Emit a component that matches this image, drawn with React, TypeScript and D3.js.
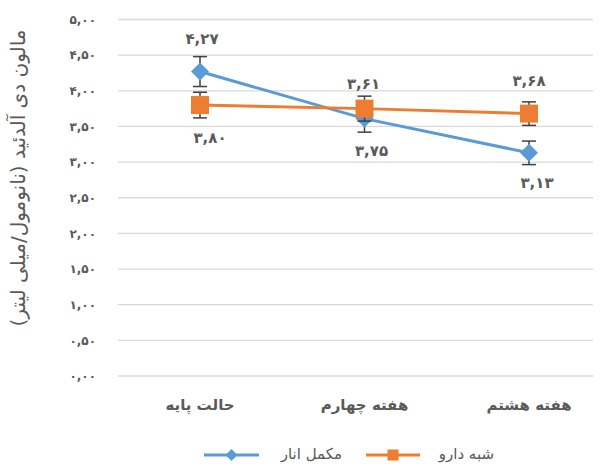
import React, { useEffect, useRef } from 'react';
import * as d3 from 'd3';

// data
const categories = ['حالت پایه', 'هفته چهارم', 'هفته هشتم'];
const supplementValues = [4.27, 3.61, 3.13];
const supplementErrors = [0.21, 0.19, 0.165];
const placeboValues = [3.8, 3.75, 3.68];
const placeboErrors = [0.18, 0.175, 0.165];
const yTicks = [0, 0.5, 1, 1.5, 2, 2.5, 3, 3.5, 4, 4.5, 5];
const seriesNames = ['مکمل انار', 'شبه دارو'];
const yTitle = 'مالون دی آلدئید (نانومول/میلی لیتر)';

// label placement (px offset from the point)
const supplementLabelDy = [-33, -35, 30];
const placeboLabelDy = [33, 42, -33];
const supplementLabelDx = [0, -3, 6];
const placeboLabelDx = [8, 5, -2];

const BLUE = '#5B9BD5';
const ORANGE = '#ED7D31';
const TEXT = '#595959';
const GRID = '#D9D9D9';
const ERR = '#404040';
const FONT = '"DejaVu Sans", sans-serif';

const toPersian = (v: number) =>
  v
    .toFixed(2)
    .replace('.', ',')
    .replace(/\d/g, (c) => '۰۱۲۳۴۵۶۷۸۹'[+c]);

export default function App() {
  const svgRef = useRef<SVGSVGElement>(null);

  useEffect(() => {
    if (!svgRef.current) return;
    const svg = d3.select(svgRef.current);
    svg.selectAll('*').remove();

    const W = 603;
    const H = 464;
    svg.attr('width', W).attr('height', H);

    const plotLeft = 118;
    const plotRight = 593;

    const x = d3.scalePoint<string>().domain(categories).range([200, 529]);
    const y = d3.scaleLinear().domain([0, 5]).range([376, 19.5]);

    // gridlines
    svg
      .append('g')
      .selectAll('line')
      .data(yTicks)
      .enter()
      .append('line')
      .attr('x1', plotLeft)
      .attr('x2', plotRight)
      .attr('y1', (d) => y(d))
      .attr('y2', (d) => y(d))
      .attr('stroke', GRID)
      .attr('stroke-width', 1.3);

    // y tick labels
    svg
      .append('g')
      .selectAll('text')
      .data(yTicks)
      .enter()
      .append('text')
      .attr('x', 96)
      .attr('y', (d) => y(d))
      .attr('dy', '0.35em')
      .attr('text-anchor', 'end')
      .style('font-family', FONT)
      .style('font-size', '12px')
      .style('font-weight', 'bold')
      .style('letter-spacing', '4px')
      .style('fill', TEXT)
      .text((d) => toPersian(d));

    // y title
    svg
      .append('text')
      .attr('transform', 'translate(25,178) rotate(-90)')
      .attr('text-anchor', 'middle')
      .style('font-family', FONT)
      .style('font-size', '20px')
      .style('fill', TEXT)
      .text(yTitle);

    // x labels
    svg
      .append('g')
      .selectAll('text')
      .data(categories)
      .enter()
      .append('text')
      .attr('x', (d) => x(d)!)
      .attr('y', 410)
      .attr('text-anchor', 'middle')
      .style('font-family', FONT)
      .style('font-size', '15px')
      .style('font-weight', 'bold')
      .style('letter-spacing', '4px')
      .style('fill', TEXT)
      .text((d) => d);

    const series = [
      { name: seriesNames[0], values: supplementValues, errors: supplementErrors, color: BLUE, shape: 'diamond', dy: supplementLabelDy, dx: supplementLabelDx },
      { name: seriesNames[1], values: placeboValues, errors: placeboErrors, color: ORANGE, shape: 'square', dy: placeboLabelDy, dx: placeboLabelDx },
    ];

    const line = d3
      .line<number>()
      .x((_, i) => x(categories[i])!)
      .y((d) => y(d));

    const drawMarker = (g: any, shape: string, color: string, cx: number, cy: number, size: number) => {
      if (shape === 'diamond') {
        g.append('path')
          .attr('d', `M${cx},${cy - size / 2}L${cx + size / 2},${cy}L${cx},${cy + size / 2}L${cx - size / 2},${cy}Z`)
          .attr('fill', color);
      } else {
        g.append('rect')
          .attr('x', cx - size / 2)
          .attr('y', cy - size / 2)
          .attr('width', size)
          .attr('height', size)
          .attr('fill', color);
      }
    };

    series.forEach((s) => {
      const g = svg.append('g');
      g.append('path')
        .datum(s.values)
        .attr('fill', 'none')
        .attr('stroke', s.color)
        .attr('stroke-width', 3)
        .attr('d', line);

      // error bars
      s.values.forEach((v, i) => {
        const cx = x(categories[i])!;
        const top = y(v + s.errors[i]);
        const bot = y(v - s.errors[i]);
        g.append('line').attr('x1', cx).attr('x2', cx).attr('y1', top).attr('y2', bot).attr('stroke', ERR).attr('stroke-width', 1.5);
        [top, bot].forEach((yy) => {
          g.append('line').attr('x1', cx - 7).attr('x2', cx + 7).attr('y1', yy).attr('y2', yy).attr('stroke', ERR).attr('stroke-width', 1.5);
        });
      });

      s.values.forEach((v, i) => {
        drawMarker(g, s.shape, s.color, x(categories[i])!, y(v), 18);
      });
    });

    // data labels
    series.forEach((s) => {
      svg
        .append('g')
        .selectAll('text')
        .data(s.values)
        .enter()
        .append('text')
        .attr('x', (_, i) => x(categories[i])! + s.dx[i] + 2)
        .attr('y', (d, i) => y(d) + s.dy[i])
        .attr('dy', '0.35em')
        .attr('text-anchor', 'middle')
        .style('font-family', FONT)
        .style('font-size', '15px')
        .style('font-weight', 'bold')
        .style('letter-spacing', '5px')
        .style('fill', TEXT)
        .text((d) => toPersian(d));
    });

    // legend
    const legendY = 455;
    const legend = [
      { s: series[0], x1: 204, x2: 259, textX: 342 },
      { s: series[1], x1: 366, x2: 420, textX: 494 },
    ];
    legend.forEach((l) => {
      const g = svg.append('g');
      g.append('line').attr('x1', l.x1).attr('x2', l.x2).attr('y1', legendY).attr('y2', legendY).attr('stroke', l.s.color).attr('stroke-width', 3);
      drawMarker(g, l.s.shape, l.s.color, (l.x1 + l.x2) / 2, legendY, l.s.shape === 'diamond' ? 12 : 11);
      g.append('text')
        .attr('x', l.textX)
        .attr('y', legendY - 1)
        .attr('dy', '0.3em')
        .attr('text-anchor', 'end')
        .style('font-family', FONT)
        .style('font-size', '15px')
        .style('fill', TEXT)
        .text(l.s.name);
    });
  }, []);

  return (
    <div style={{ position: 'fixed', left: 0, top: 0, background: '#fff' }}>
      <svg ref={svgRef} style={{ display: 'block' }}></svg>
    </div>
  );
}
